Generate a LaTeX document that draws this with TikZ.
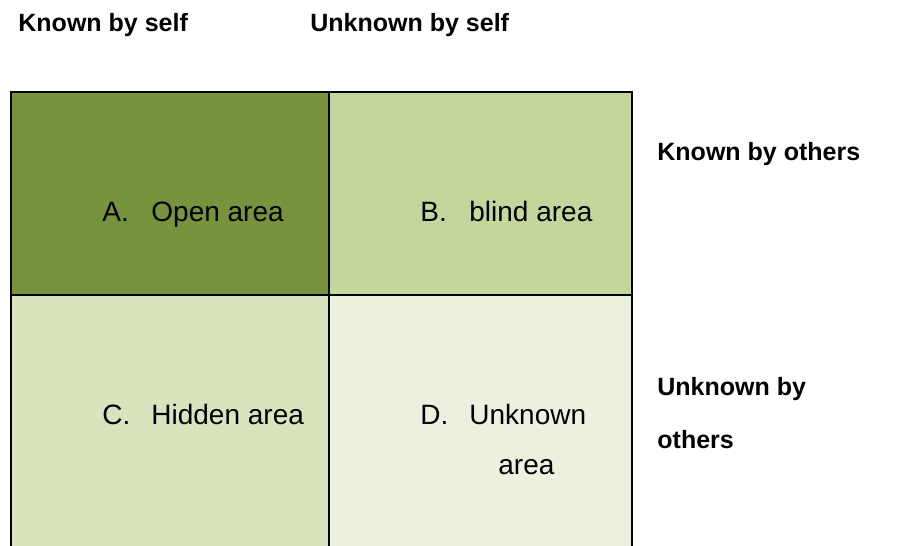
\documentclass[tikz,border=0pt]{standalone}
\usepackage{fontspec}
\setmainfont{Liberation Sans}
\usepackage{tikz}
\usetikzlibrary{positioning}

\definecolor{openclr}{HTML}{77933C}
\definecolor{blindclr}{HTML}{C3D69B}
\definecolor{hiddenclr}{HTML}{D7E4BD}
\definecolor{unknownclr}{HTML}{EBF1DE}

\newcommand{\areanum}[1]{\makebox[24.5pt][l]{#1}}

\tikzset{
  head/.style={anchor=base west, inner sep=0pt, font=\fontsize{12.5}{15}\selectfont\bfseries},
  area/.style={anchor=base west, inner sep=0pt, font=\fontsize{14}{17}\selectfont},
  grid line/.style={line width=1pt}
}

\begin{document}
\begin{tikzpicture}[x=0.5pt, y=-0.5pt]
  \clip (0,0) rectangle (900,546);

  % the four areas
  \fill[openclr]    (11,92)  rectangle (329,295);
  \fill[blindclr]   (329,92) rectangle (632,295);
  \fill[hiddenclr]  (11,295) rectangle (329,560);
  \fill[unknownclr] (329,295) rectangle (632,560);

  % borders
  \draw[grid line] (11,560) -- (11,92) -- (632,92) -- (632,560);
  \draw[grid line] (329,92) -- (329,560);
  \draw[grid line] (11,295) -- (632,295);

  % column heads
  \node[head] (kself) at (18,32) {Known by self};
  \node[head] (uself) at (310,32) {Unknown by self};

  % row heads
  \node[head] (kothers) at (657,160) {Known by others};
  \node[head] (uothers1) at (657,395) {Unknown by};
  \node[head] (uothers2) at (657,448) {others};

  % labels of the areas
  \node[area] (open) at (102,221) {\areanum{A.}Open area};
  \node[area] (blind) at (420,221) {\areanum{B.}blind area};
  \node[area] (hidden) at (102,424) {\areanum{C.}Hidden area};
  \node[area] (unknown1) at (420,424) {\areanum{D.}Unknown};
  \node[area] (unknown2) at (498,474) {area};
\end{tikzpicture}
\end{document}
